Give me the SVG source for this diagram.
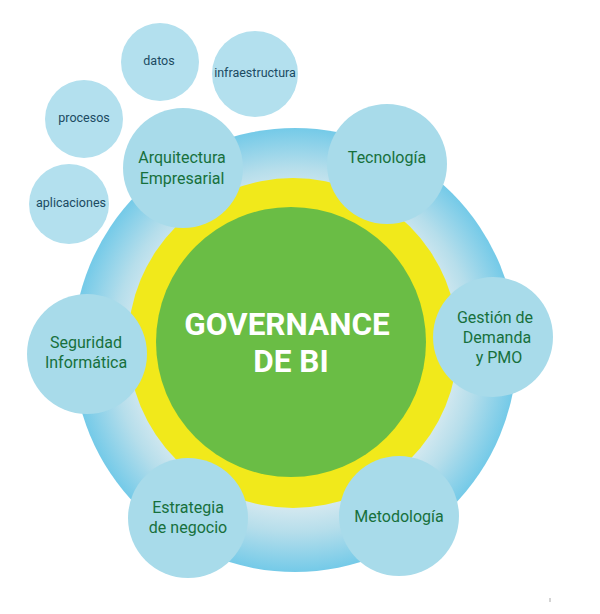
<svg xmlns="http://www.w3.org/2000/svg" width="600" height="614" viewBox="0 0 600 614">
<defs>
<radialGradient id="ring" gradientUnits="userSpaceOnUse" cx="295" cy="350" r="222">
<stop offset="0.7" stop-color="#d6e9f0"/>
<stop offset="0.82" stop-color="#b6deeb"/>
<stop offset="1" stop-color="#74cae8"/>
</radialGradient>
<style>
.n{fill:#a8dbea}
.s{fill:#b3e0ee}
.t{font-family:Roboto,"Liberation Sans",sans-serif;font-size:16px;fill:#17703c;text-anchor:middle}
.st{font-family:Roboto,"Liberation Sans",sans-serif;font-size:12.5px;fill:#1b4b62;text-anchor:middle}
.c{font-family:Roboto,"Liberation Sans",sans-serif;font-size:31.5px;font-weight:bold;fill:#ffffff;text-anchor:middle}
</style>
</defs>
<rect width="600" height="614" fill="#ffffff"/>
<g id="core">
<circle cx="295" cy="350" r="222" fill="url(#ring)"/>
<circle cx="293" cy="343" r="165" fill="#f1e91b"/>
<circle cx="291" cy="342" r="135" fill="#6abd45"/>
<text class="c" x="287" y="335">GOVERNANCE</text>
<text class="c" x="291" y="372">DE BI</text>
</g>
<g id="connectors"></g>
<g id="datos"><circle class="s" cx="160" cy="62" r="39"/><text class="st" x="159" y="65">datos</text></g>
<g id="infraestructura"><circle class="s" cx="255" cy="74" r="43"/><text class="st" x="255" y="77">infraestructura</text></g>
<g id="procesos"><circle class="s" cx="84" cy="119" r="39"/><text class="st" x="84" y="122">procesos</text></g>
<g id="aplicaciones"><circle class="s" cx="69" cy="204" r="40"/><text class="st" x="71" y="207">aplicaciones</text></g>
<g id="arquitectura"><circle class="n" cx="183" cy="168" r="60"/><text class="t" x="182" y="163">Arquitectura</text><text class="t" x="182" y="184">Empresarial</text></g>
<g id="tecnologia"><circle class="n" cx="387" cy="164" r="60"/><text class="t" x="387" y="163">Tecnología</text></g>
<g id="gestion"><circle class="n" cx="493" cy="337" r="60"/><text class="t" x="495" y="323">Gestión de</text><text class="t" x="497" y="343">Demanda</text><text class="t" x="499" y="363">y PMO</text></g>
<g id="seguridad"><circle class="n" cx="87" cy="354" r="60"/><text class="t" x="86" y="348">Seguridad</text><text class="t" x="86" y="368">Informática</text></g>
<g id="estrategia"><circle class="n" cx="188" cy="518" r="60"/><text class="t" x="188" y="513">Estrategia</text><text class="t" x="188" y="533">de negocio</text></g>
<g id="metodologia"><circle class="n" cx="399" cy="516" r="60"/><text class="t" x="399" y="522">Metodología</text></g>
<line x1="550" y1="598" x2="550" y2="602" stroke="#aaaaaa" stroke-width="1"/>
</svg>
